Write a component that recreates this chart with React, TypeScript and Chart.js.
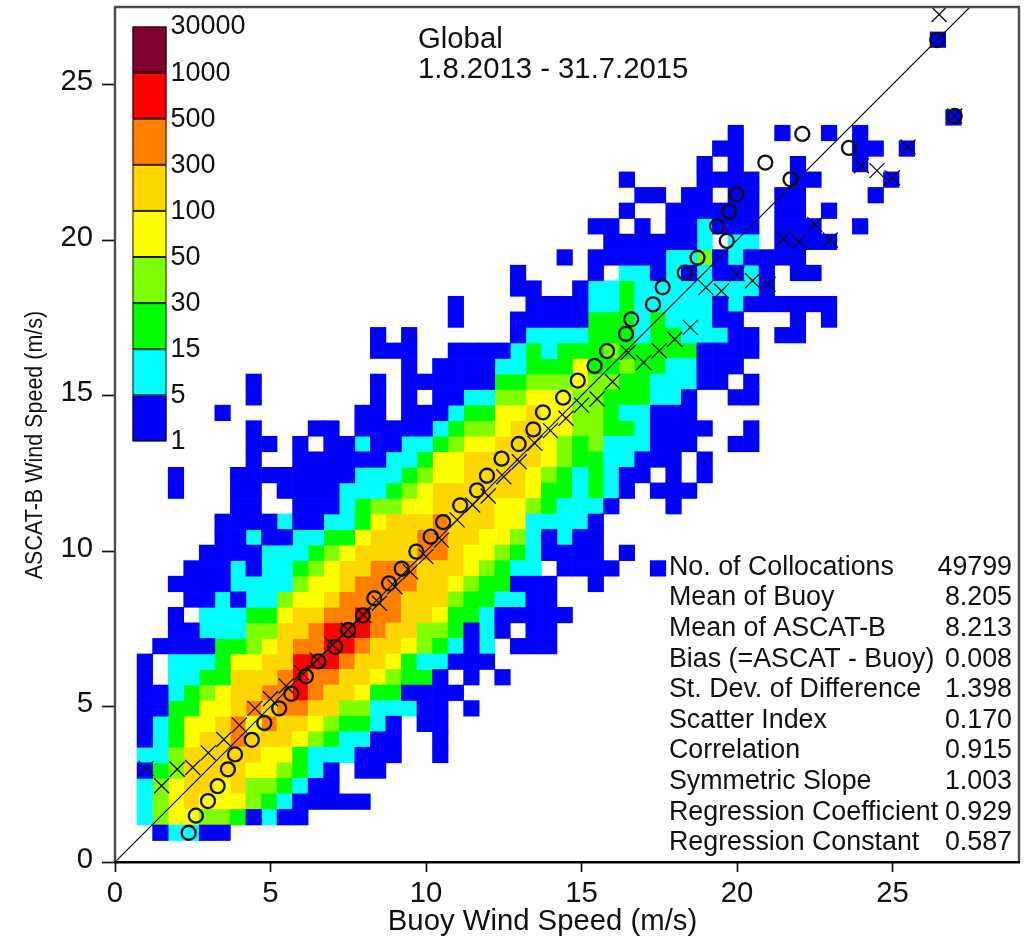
import React, { useEffect, useRef } from "react";
import { Chart, registerables } from "chart.js";

Chart.register(...registerables);

// Heat-map level codes, low to high, with the colour of each class
const levelCodes = ["b", "c", "g", "l", "y", "d", "o", "r", "m"];
const levelColors = ["#0000ff", "#00ffff", "#00ff00", "#80ff00", "#ffff00", "#ffd700", "#ff8000", "#ff0000", "#800030"];
const legendLabels = ["1", "5", "15", "30", "50", "100", "300", "500", "1000", "30000"];

// Bin centres of the rows (ASCAT wind speed, m/s)
const rowSpeeds = [
  1, 1.5, 2, 2.5, 3, 3.5, 4, 4.5, 5, 5.5, 6, 6.5, 7, 7.5, 8, 8.5, 9, 9.5, 10, 10.5, 11, 11.5, 12, 12.5, 13, 13.5, 14,
  14.5, 15, 15.5, 16, 16.5, 17, 17.5, 18, 18.5, 19, 19.5, 20, 20.5, 21, 21.5, 22, 22.5, 23, 23.5, 24, 26.5,
];
// Per row: column runs (column n = buoy speed n/2) with their level code
const rowRuns = [
  "3b 4-5c 6-7b",
  "2c 3l 4-5y 6-7l 8g 9b 10c 11-12b",
  "2c 3l 4y 5d 6-8y 9l 10g 11c 12-16b",
  "2c 3l 4y 5-6d 7y 8d 9-10l 11g 12c 13-14b",
  "2b 3g 4l 5-8d 9-10y 11l 12g 13c 14b 16-17b",
  "2-3c 4l 5-9d 10-11y 12g 13-15c 16-18b 21b",
  "2b 3c 4g 5y 6-7d 8o 9-11d 12y 13l 14g 15-16c 17-18b 21b",
  "2b 3c 4g 5-6y 7d 8o 9y 10o 11-12d 13y 14l 15-16g 17c 18b 20-21b",
  "2-3b 4-5g 6-7y 8d 9o 10d 11-12o 13-14d 15-16l 17-19c 20-21b 23b",
  "2-3b 4c 5g 6l 7y 8-9d 10-11o 12r 13o 14-15d 16y 17-18g 19-22b",
  "2b 4-5c 6-7g 8-10d 11o 12r 13-14o 15-16d 17y 18l 19-20g 21b 23b 25b",
  "2b 4-6c 7g 8-9y 10-11d 12-14r 15o 16-17d 18y 19g 20-21c 22-24b",
  "3-6b 7-8g 9l 10y 11d 12-13o 14-15r 16o 17-18d 19y 20l 21g 22c 23b 24c 26-28b",
  "4-5b 6-8c 9-10l 11-12d 13o 14-16r 17o 18-19d 20-21l 22g 23b 24c 25b 27-28b",
  "4b 6-8c 9-10g 11y 12-13d 14-15o 16r 17-18o 19-20d 21y 22-23g 24c 25-29b",
  "5-6b 7c 8b 9-10c 11l 12-13y 14d 15-18o 19-21d 22l 23-24g 25-26c 27-28b",
  "4-7b 8-11c 12l 13-14y 15d 16-19o 20-21d 22y 23l 24-25g 26-28b 31b",
  "5-7b 8c 9b 10-11c 12g 13l 14y 15-16d 17-19o 20-22d 23y 24l 25g 26-27c 29-32b 35b",
  "6-9b 10-12c 13g 14l 15y 16-19d 20-21o 22d 23-24y 25l 26g 27c 28-31b 33b",
  "7-8b 9c 10-11b 12-13c 14-15g 16y 17-19d 20-21o 22-23d 24-25y 26l 27c 28b 29c 30-31b",
  "7-10b 11c 12-13b 14-15c 16g 17y 18-20d 21o 22-24d 25-26y 27-30c 31b",
  "8-9b 12-14b 15c 16g 17-18l 19-20y 21-24d 25-26y 27l 28g 29-31c 32b 36b",
  "4b 8-9b 11-14b 15-17c 18g 19l 20y 21-26d 27y 28-29g 30c 31g 32c 33b 35-37b",
  "4b 8-15b 16-18c 19g 20l 21-22y 23-26d 27y 28l 29g 30c 31g 32c 33-34b 36b 38b",
  "9b 12-17b 18-19c 20g 21-22y 23-27d 28y 29l 30-31g 32-33c 34-36b 38b",
  "9-10b 12b 14-15b 16c 17-18b 19-20c 21g 22l 23-24y 25-27d 28y 29l 30g 31l 32-34c 35-37b 40-41b",
  "9b 13-14b 16-20b 21c 22g 23-24l 25y 26-27d 28-29y 30-31l 32-33g 34c 35-38b 41b",
  "7b 16-17b 19-21b 22c 23-24g 25-26y 27d 28-29y 30-31l 32g 33-34c 35-37b",
  "9b 17b 19b 21-22b 23-24c 25-26l 27-29y 30-31l 32-34g 35-36c 37b 40-41b",
  "9b 17b 19-24b 25-26g 27-29l 30y 31-32l 33-34g 35-37c 38-39b 41b",
  "19b 21-24b 25-26c 27-29g 30y 31-32g 33l 34-35g 36-37c 38-40b",
  "17-19b 22-25b 26c 27g 28c 29-31g 32l 33-37g 38-41b",
  "17b 19b 26b 27-30c 31-33g 34c 35-36g 37-39c 40-41b 43-44b",
  "22b 26-30b 31-33g 34c 35g 36-38c 39-40b 44b 46b",
  "22b 27-30b 31-32c 33g 34-38c 39b 40c 41-46b",
  "26-27b 30b 31-32c 33g 34-41c 42b",
  "26b 31b 33-34c 35b 36c 37b 38c 39-40b 41c 42b 44-45b",
  "29b 31-35b 36-37c 38l 39b 40c 41-44b",
  "32-37b 38c 40-41c 43-46b",
  "31-32b 34b 36-37b 38c 39-41b 43-45b 48b",
  "33b 36-41b 43-44b 46b",
  "34-35b 37-38b 40-41b 43-44b 49b",
  "33b 38-41b 44-45b 50b",
  "38b 40b 44b 48b",
  "39-40b 48-49b 51b",
  "40b 43b 46b 48b",
  "54b",
  "53b",
];

// Mean buoy speed per ASCAT bin (circles)
const circleBuoy = [2.37, 2.6, 2.99, 3.3, 3.63, 3.86, 4.4, 4.8, 5.28, 5.67, 6.14, 6.54, 7.08, 7.5, 7.97, 8.34, 8.81, 9.22, 9.69, 10.15, 10.55, 11.1, 11.64, 11.96, 12.43, 12.98, 13.45, 13.76, 14.41, 14.88, 15.42, 15.82, 16.43, 16.6, 17.3, 17.61, 18.32, 18.73, 19.67, 19.36, 19.75, 19.99, 21.72, 20.91, 23.6, 22.1, 27.0, 26.44];
const circleAscat = [0.94, 1.49, 1.96, 2.44, 2.98, 3.46, 3.93, 4.47, 4.94, 5.41, 5.97, 6.45, 6.92, 7.46, 7.93, 8.48, 8.96, 9.43, 9.98, 10.46, 10.93, 11.47, 11.95, 12.42, 12.97, 13.44, 13.91, 14.46, 14.93, 15.48, 15.95, 16.43, 16.98, 17.45, 17.93, 18.48, 18.95, 19.43, 19.97, 20.44, 20.91, 21.47, 21.95, 22.49, 22.96, 23.41, 23.99, 26.43];
// Mean ASCAT speed per buoy bin (crosses)
const crossBuoy = [1, 1.5, 2, 2.5, 3, 3.5, 4, 4.5, 5, 5.5, 6, 6.5, 7, 7.5, 8, 8.5, 9, 9.5, 10, 10.5, 11, 11.5, 12, 12.5, 13, 13.5, 14, 14.5, 15, 15.5, 16, 16.5, 17, 17.5, 18, 18.5, 19, 19.5, 20, 20.5, 21, 21.5, 22, 22.5, 23, 24, 24.5, 25, 25.5, 26.5, 27];
const crossAscat = [3.01, 2.45, 2.98, 3.04, 3.51, 3.94, 4.4, 4.94, 5.25, 5.66, 6.09, 6.5, 6.98, 7.46, 7.93, 8.32, 8.85, 9.33, 9.82, 10.35, 11.0, 11.48, 11.77, 12.39, 12.87, 13.46, 13.87, 14.27, 14.69, 14.89, 15.44, 16.38, 16.06, 16.44, 16.81, 17.19, 18.47, 18.36, 18.91, 18.69, 18.58, 20.05, 19.94, 20.5, 20.0, 22.39, 22.23, 22.0, 22.99, 27.25, 23.99];

const diagonal = [0, 27.5];
const axisTicks = [0, 5, 10, 15, 20, 25];

const statLabels = ["No. of Collocations", "Mean of Buoy", "Mean of ASCAT-B", "Bias (=ASCAT - Buoy)", "St. Dev. of Difference", "Scatter Index", "Correlation", "Symmetric Slope", "Regression Coefficient", "Regression Constant"];
const statValues = ["49799", "8.205", "8.213", "0.008", "1.398", "0.170", "0.915", "1.003", "0.929", "0.587"];

const noteLines = ["Global", "1.8.2013 - 31.7.2015"];
const xTitle = "Buoy Wind Speed (m/s)";
const yTitle = "ASCAT-B Wind Speed (m/s)";

const FONT = '"Liberation Sans", Arial, sans-serif';
const PX_PER_UNIT = 31.1;
const CELL = 0.5;
const CELL_SHIFT_X = -0.04;
const CELL_SHIFT_Y = -0.06;

function parseRun(token: string) {
  const m = token.match(/^(\d+)(?:-(\d+))?([a-z])$/)!;
  const from = Number(m[1]);
  const to = m[2] ? Number(m[2]) : from;
  return { from, to, code: m[3] };
}

function cellsFor(code: string) {
  const out: { x: number; y: [number, number] }[] = [];
  rowRuns.forEach((runs, r) => {
    const y = rowSpeeds[r] + CELL_SHIFT_Y;
    runs.split(" ").map(parseRun).forEach((run) => {
      if (run.code !== code) return;
      for (let c = run.from; c <= run.to; c++) {
        out.push({ x: c * CELL + CELL_SHIFT_X, y: [y - CELL / 2, y + CELL / 2] });
      }
    });
  });
  return out;
}

const decorations = {
  id: "decorations",
  beforeDatasetsDraw(chart: any) {
    const ctx = chart.ctx;
    ctx.save();
    // colour key
    const left = 132.5;
    const w = 34;
    const top = 26.5;
    const step = 46.1;
    const n = levelColors.length;
    for (let i = 0; i < n; i++) {
      const y = top + step * (n - 1 - i);
      ctx.fillStyle = levelColors[i];
      ctx.fillRect(left, y, w, step);
      ctx.strokeStyle = "rgba(0,0,0,0.9)";
      ctx.lineWidth = 1;
      ctx.strokeRect(left + 0.5, y + 0.5, w - 1, step - 1);
    }
    ctx.fillStyle = "#111";
    ctx.font = `27px ${FONT}`;
    ctx.textAlign = "left";
    ctx.textBaseline = "middle";
    legendLabels.forEach((t, i) => {
      ctx.fillText(t, 170.5, top + step * (n - i) + 0.5);
    });
    ctx.restore();
  },
  afterDraw(chart: any) {
    const ctx = chart.ctx;
    const a = chart.chartArea;
    ctx.save();
    // frame
    ctx.strokeStyle = "#4a4a4a";
    ctx.lineWidth = 2.4;
    ctx.beginPath();
    ctx.moveTo(a.left, a.bottom);
    ctx.lineTo(a.left, a.top);
    ctx.lineTo(a.right, a.top);
    ctx.lineTo(a.right, a.bottom);
    ctx.stroke();
    ctx.strokeStyle = "#000";
    ctx.beginPath();
    ctx.moveTo(a.left - 1, a.bottom + 0.2);
    ctx.lineTo(a.right + 1, a.bottom + 0.2);
    ctx.stroke();

    ctx.fillStyle = "#111";
    ctx.textBaseline = "middle";
    ctx.textAlign = "left";
    ctx.font = `29.3px ${FONT}`;
    noteLines.forEach((t, i) => ctx.fillText(t, 418, 40 + i * 29.6));
    ctx.font = `26.8px ${FONT}`;
    statLabels.forEach((t, i) => {
      ctx.textAlign = "left";
      ctx.fillText(t, 669, 567.5 + i * 30.6);
      ctx.textAlign = "right";
      ctx.fillText(statValues[i], 1012, 567.5 + i * 30.6);
    });
    ctx.textAlign = "center";
    ctx.font = `29.3px ${FONT}`;
    ctx.fillText(xTitle, 542.5, 921.5);
    ctx.save();
    ctx.translate(36, 445);
    ctx.rotate(-Math.PI / 2);
    ctx.scale(0.935, 1);
    ctx.font = `23px ${FONT}`;
    ctx.fillText(yTitle, 0, 0);
    ctx.restore();
    ctx.restore();
  },
};

export default function App() {
  const ref = useRef<HTMLCanvasElement | null>(null);
  useEffect(() => {
    const left = 115;
    const right = 1019;
    const top = 7;
    const bottom = 862;
    const tickFont = { family: FONT, size: 29.3 };
    const zeroPadding = (s: any) => {
      s.paddingLeft = 0;
      s.paddingRight = 0;
      s.paddingTop = 0;
      s.paddingBottom = 0;
    };
    const axisCommon = {
      type: "linear" as const,
      offset: false,
      min: 0,
      border: { display: false },
      afterBuildTicks: (s: any) => {
        s.ticks = axisTicks.map((value) => ({ value }));
      },
    };
    const gridCommon = { display: true, offset: false, drawOnChartArea: false, drawTicks: true, tickColor: "#111", tickWidth: 1.7 };
    const chart = new Chart(ref.current as HTMLCanvasElement, {
      type: "bar",
      data: {
        datasets: [
          {
            type: "scatter",
            label: "Mean ASCAT per buoy bin",
            data: crossBuoy.map((x, i) => ({ x, y: crossAscat[i] })),
            pointStyle: "crossRot",
            pointRadius: 10.6,
            pointBorderColor: "#111",
            pointBorderWidth: 1.3,
            showLine: false,
            order: 0,
            clip: false,
          },
          {
            type: "scatter",
            label: "Mean buoy per ASCAT bin",
            data: circleBuoy.map((x, i) => ({ x, y: circleAscat[i] })),
            pointStyle: "circle",
            pointRadius: 7,
            pointBackgroundColor: "rgba(0,0,0,0)",
            pointBorderColor: "#111",
            pointBorderWidth: 2.3,
            showLine: false,
            order: 0,
            clip: false,
          },
          {
            type: "line",
            label: "1:1",
            data: diagonal.map((v) => ({ x: v, y: v })),
            borderColor: "#111",
            borderWidth: 1.2,
            pointRadius: 0,
            order: 1,
          },
          ...levelCodes.map((code, i) => ({
            type: "bar" as const,
            label: code,
            data: cellsFor(code),
            backgroundColor: levelColors[i],
            borderWidth: 0,
            barThickness: CELL * PX_PER_UNIT,
            categoryPercentage: 1,
            barPercentage: 1,
            grouped: false,
            order: 2,
          })),
        ] as any,
      },
      options: {
        animation: false,
        responsive: false,
        devicePixelRatio: 1,
        events: [],
        layout: { autoPadding: false, padding: { top, right: 1025 - right, left: 0, bottom: 0 } },
        plugins: { legend: { display: false }, title: { display: false }, tooltip: { enabled: false } },
        scales: {
          x: {
            ...axisCommon,
            max: (right - left) / PX_PER_UNIT,
            grid: { ...gridCommon, tickLength: 10 },
            ticks: { font: tickFont, color: "#111", padding: 4, maxRotation: 0, autoSkip: false },
            afterFit: (s: any) => { s.height = 940 - bottom; zeroPadding(s); },
          },
          y: {
            ...axisCommon,
            stacked: false,
            max: (bottom - top) / PX_PER_UNIT,
            grid: { ...gridCommon, tickLength: 13 },
            ticks: { font: tickFont, color: "#111", padding: 9, autoSkip: false, labelOffset: -2.5 },
            afterFit: (s: any) => { s.width = left; zeroPadding(s); },
          },
        },
      } as any,
      plugins: [decorations],
    });
    return () => chart.destroy();
  }, []);
  return (
    <canvas
      ref={ref}
      width={1025}
      height={940}
      style={{ position: "absolute", left: 0, top: 0, width: 1025, height: 940, display: "block" }}
    />
  );
}
